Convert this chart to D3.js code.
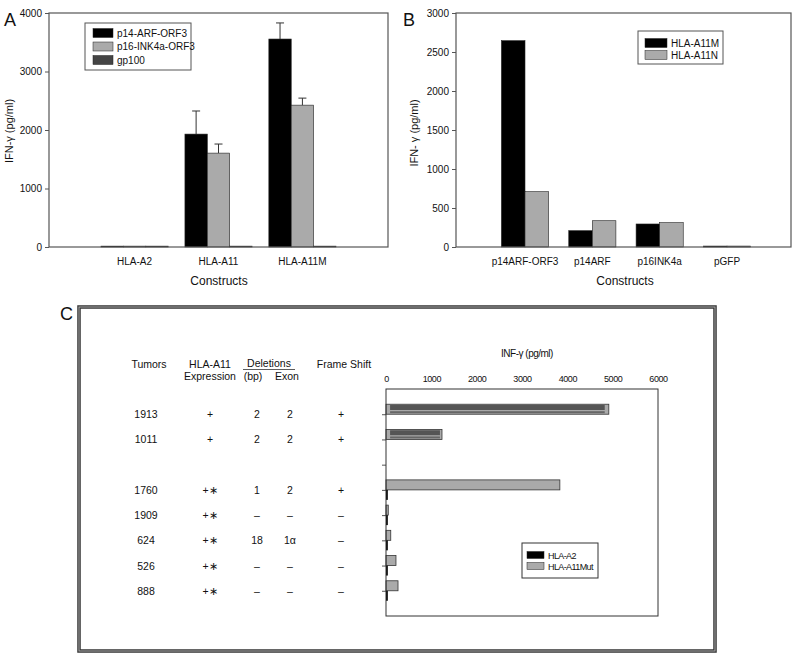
<!DOCTYPE html>
<html>
<head>
<meta charset="utf-8">
<script src="https://cdn.jsdelivr.net/npm/d3@7"></script>
<style>
  body { margin: 0; background: #fff; }
  svg { font-family: "Liberation Sans", Arial, sans-serif; }
</style>
</head>
<body>
<div id="chart"></div>
<script>
// ---- panel A data
const constructsA = ["HLA-A2", "HLA-A11", "HLA-A11M"];
const seriesA = ["p14-ARF-ORF3", "p16-INK4a-ORF3", "gp100"];
const p14ArfOrf3 = [15, 1930, 3555];
const p14ArfOrf3Err = [0, 395, 275];
const p16Ink4aOrf3 = [15, 1605, 2425];
const p16Ink4aOrf3Err = [0, 155, 120];
const gp100 = [15, 15, 15];
const ticksA = [0, 1000, 2000, 3000, 4000];

// ---- panel B data
const constructsB = ["p14ARF-ORF3", "p14ARF", "p16INK4a", "pGFP"];
const seriesB = ["HLA-A11M", "HLA-A11N"];
const hlaA11M = [2645, 209, 295, 12];
const hlaA11N = [709, 337, 312, 12];
const ticksB = [0, 500, 1000, 1500, 2000, 2500, 3000];

// ---- panel C data
const tumors = ["1913", "1011", "", "1760", "1909", "624", "526", "888"];
const expression = ["+", "+", "", "+∗", "+∗", "+∗", "+∗", "+∗"];
const deletionBp = ["2", "2", "", "1", "–", "18", "–", "–"];
const deletionExon = ["2", "2", "", "2", "–", "1α", "–", "–"];
const frameShift = ["+", "+", "", "+", "–", "–", "–", "–"];
const seriesC = ["HLA-A2", "HLA-A11Mut"];
const hlaA2 = [0, 0, null, 40, 40, 40, 40, 40];
const hlaA11Mut = [4915, 1235, null, 3835, 50, 105, 220, 265];
const hlaA11MutInner = [4825, 1190, null, null, null, null, null, null];
const ticksC = [0, 1000, 2000, 3000, 4000, 5000, 6000];

const textCol = "#111";
const frameCol = "#555";
const fmt = d3.format("d");

const svg = d3.select("#chart")
  .append("svg")
  .attr("width", 800)
  .attr("height", 658);

function styleAxis(g, size) {
  g.select(".domain").remove();
  g.selectAll("line").attr("stroke", frameCol);
  g.selectAll("text").attr("fill", textCol).style("font-size", size + "px");
}

// ================= panel A
{
  const L = 49, R = 388, T = 13, B = 247;
  const x = d3.scaleBand().domain(constructsA).range([L, R]).paddingInner(0.2).paddingOuter(0.62);
  const xi = d3.scaleBand().domain(seriesA).range([0, x.bandwidth()]);
  const y = d3.scaleLinear().domain([0, 4000]).range([B, T]);
  const colors = ["#000", "#aaa", "#444"];
  const vals = [p14ArfOrf3, p16Ink4aOrf3, gp100];
  const errs = [p14ArfOrf3Err, p16Ink4aOrf3Err, null];

  svg.append("g").attr("transform", "translate(" + L + ",0)")
    .call(d3.axisLeft(y).tickValues(ticksA).tickFormat(fmt).tickSize(4).tickPadding(3))
    .call(g => styleAxis(g, 10));
  svg.append("g").attr("transform", "translate(0," + B + ")")
    .call(d3.axisBottom(x).tickSize(0).tickPadding(11))
    .call(g => styleAxis(g, 10));

  seriesA.forEach((s, si) => {
    constructsA.forEach((c, ci) => {
      const v = vals[si][ci];
      svg.append("rect")
        .attr("x", x(c) + xi(s)).attr("width", xi.bandwidth())
        .attr("y", y(v)).attr("height", B - y(v))
        .attr("fill", colors[si]).attr("stroke", "#222").attr("stroke-width", 0.6);
      if (errs[si] && errs[si][ci] > 0) {
        const cx = x(c) + xi(s) + xi.bandwidth() / 2;
        const top = y(v + errs[si][ci]);
        svg.append("line").attr("x1", cx).attr("x2", cx).attr("y1", y(v)).attr("y2", top)
          .attr("stroke", "#333").attr("stroke-width", 1);
        svg.append("line").attr("x1", cx - 4).attr("x2", cx + 4).attr("y1", top).attr("y2", top)
          .attr("stroke", "#333").attr("stroke-width", 1);
      }
    });
  });

  svg.append("rect").attr("x", L).attr("y", T).attr("width", R - L).attr("height", B - T)
    .attr("fill", "none").attr("stroke", frameCol).attr("stroke-width", 1.2);

  // legend
  svg.append("rect").attr("x", 85).attr("y", 23).attr("width", 106).attr("height", 47)
    .attr("fill", "#fff").attr("stroke", frameCol);
  seriesA.forEach((s, i) => {
    const ly = 33 + i * 13.5;
    svg.append("rect").attr("x", 93).attr("y", ly - 4.5).attr("width", 20).attr("height", 9)
      .attr("fill", colors[i]).attr("stroke", "#222").attr("stroke-width", 0.5);
    svg.append("text").attr("x", 117).attr("y", ly + 3.5).text(s)
      .style("font-size", "10px").attr("fill", textCol);
  });

  svg.append("text").attr("x", 4).attr("y", 26).text("A").style("font-size", "18px").attr("fill", "#111");
  svg.append("text").attr("transform", "translate(13,131) rotate(-90)").attr("text-anchor", "middle")
    .style("font-size", "11px").attr("fill", textCol).text("IFN-γ (pg/ml)");
  svg.append("text").attr("x", 219).attr("y", 285).attr("text-anchor", "middle")
    .style("font-size", "12px").attr("fill", textCol).text("Constructs");
}

// ================= panel B
{
  const L = 456, R = 791, T = 13, B = 247;
  const x = d3.scaleBand().domain(constructsB).range([459, 793]).paddingInner(0.3).paddingOuter(0.63);
  const xi = d3.scaleBand().domain(seriesB).range([0, x.bandwidth()]);
  const y = d3.scaleLinear().domain([0, 3000]).range([B, T]);
  const colors = ["#000", "#aaa"];
  const vals = [hlaA11M, hlaA11N];

  svg.append("g").attr("transform", "translate(" + L + ",0)")
    .call(d3.axisLeft(y).tickValues(ticksB).tickFormat(fmt).tickSize(4).tickPadding(3))
    .call(g => styleAxis(g, 10));
  svg.append("g").attr("transform", "translate(0," + B + ")")
    .call(d3.axisBottom(x).tickSize(0).tickPadding(11))
    .call(g => styleAxis(g, 10));

  seriesB.forEach((s, si) => {
    constructsB.forEach((c, ci) => {
      const v = vals[si][ci];
      svg.append("rect")
        .attr("x", x(c) + xi(s)).attr("width", xi.bandwidth())
        .attr("y", y(v)).attr("height", B - y(v))
        .attr("fill", colors[si]).attr("stroke", "#222").attr("stroke-width", 0.6);
    });
  });

  svg.append("rect").attr("x", L).attr("y", T).attr("width", R - L).attr("height", B - T)
    .attr("fill", "none").attr("stroke", frameCol).attr("stroke-width", 1.2);

  svg.append("rect").attr("x", 638).attr("y", 31).attr("width", 85).attr("height", 33)
    .attr("fill", "#fff").attr("stroke", frameCol);
  seriesB.forEach((s, i) => {
    const ly = 43 + i * 12;
    svg.append("rect").attr("x", 645).attr("y", ly - 4.5).attr("width", 22).attr("height", 9)
      .attr("fill", colors[i]).attr("stroke", "#222").attr("stroke-width", 0.5);
    svg.append("text").attr("x", 671).attr("y", ly + 3.5).text(s)
      .style("font-size", "10px").attr("fill", textCol);
  });

  svg.append("text").attr("x", 403).attr("y", 26).text("B").style("font-size", "18px").attr("fill", "#111");
  svg.append("text").attr("transform", "translate(418,133) rotate(-90)").attr("text-anchor", "middle")
    .style("font-size", "11px").attr("fill", textCol).text("IFN- γ (pg/ml)");
  svg.append("text").attr("x", 625).attr("y", 285).attr("text-anchor", "middle")
    .style("font-size", "12px").attr("fill", textCol).text("Constructs");
}

// ================= panel C
{
  // outer double frame
  svg.append("rect").attr("x", 79).attr("y", 307).attr("width", 636).attr("height", 344)
    .attr("fill", "none").attr("stroke", "#333").attr("stroke-width", 3.5);
  svg.append("rect").attr("x", 79).attr("y", 307).attr("width", 636).attr("height", 344)
    .attr("fill", "none").attr("stroke", "#aaa").attr("stroke-width", 1);
  svg.append("text").attr("x", 60).attr("y", 320).text("C").style("font-size", "18px").attr("fill", "#111");

  const L = 386, R = 658, T = 389, B = 616;
  const x = d3.scaleLinear().domain([0, 6000]).range([L, R]);
  const y = d3.scalePoint().domain(tumors).range([T, B]).padding(1);
  const bh = 10;

  svg.append("g").attr("transform", "translate(0," + T + ")")
    .call(d3.axisTop(x).tickValues(ticksC).tickFormat(fmt).tickSize(0).tickPadding(7))
    .call(g => styleAxis(g, 9))
    .call(g => g.selectAll("text").style("letter-spacing", "-0.4px"));
  svg.append("g").attr("transform", "translate(" + L + ",0)")
    .call(d3.axisLeft(y).tickSize(4).tickFormat(""))
    .call(g => styleAxis(g, 9));

  tumors.forEach((t, i) => {
    const cy = y(t);
    if (hlaA11Mut[i] != null) {
      svg.append("rect").attr("x", L).attr("y", cy - bh).attr("width", x(hlaA11Mut[i]) - L).attr("height", bh)
        .attr("fill", "#aaa").attr("stroke", "#333").attr("stroke-width", 0.8);
    }
    if (hlaA11MutInner[i] != null) {
      svg.append("rect").attr("x", x(90)).attr("y", cy - bh + 0.8).attr("width", x(hlaA11MutInner[i]) - x(90)).attr("height", 5)
        .attr("fill", "#555");
      svg.append("rect").attr("x", x(90)).attr("y", cy - bh + 7).attr("width", x(hlaA11MutInner[i]) - x(90)).attr("height", 2)
        .attr("fill", "#666");
    }
    if (hlaA2[i]) {
      svg.append("rect").attr("x", L).attr("y", cy).attr("width", x(hlaA2[i]) - L).attr("height", bh)
        .attr("fill", "#000");
    }
  });

  svg.append("rect").attr("x", L).attr("y", T).attr("width", R - L).attr("height", B - T)
    .attr("fill", "none").attr("stroke", "#333").attr("stroke-width", 1);

  svg.append("text").attr("x", 527).attr("y", 357).attr("text-anchor", "middle")
    .style("font-size", "10px").style("letter-spacing", "-0.5px").attr("fill", textCol).text("INF-γ (pg/ml)");

  // legend
  svg.append("rect").attr("x", 522).attr("y", 543).attr("width", 76).attr("height", 35)
    .attr("fill", "#fff").attr("stroke", "#333");
  const colC = ["#000", "#aaa"];
  seriesC.forEach((s, i) => {
    const ly = 555 + i * 11;
    svg.append("rect").attr("x", 527).attr("y", ly - 3.5).attr("width", 17).attr("height", 7)
      .attr("fill", colC[i]).attr("stroke", "#222").attr("stroke-width", 0.5);
    svg.append("text").attr("x", 548).attr("y", ly + 3.5).text(s)
      .style("font-size", "9px").style("letter-spacing", "-0.6px").attr("fill", textCol);
  });

  // table
  const fs = "10.5px";
  const head = [
    [149, 368, "Tumors"], [210, 368, "HLA-A11"], [210, 380, "Expression"],
    [269, 367, "Deletions"], [253, 380, "(bp)"], [287, 380, "Exon"], [344, 368, "Frame Shift"]
  ];
  head.forEach(h => {
    svg.append("text").attr("x", h[0]).attr("y", h[1]).attr("text-anchor", "middle")
      .style("font-size", fs).attr("fill", textCol).text(h[2]);
  });
  svg.append("line").attr("x1", 243).attr("x2", 295).attr("y1", 369.5).attr("y2", 369.5)
    .attr("stroke", "#333").attr("stroke-width", 0.8);

  const cols = [[146, tumors], [210, expression], [257, deletionBp], [290, deletionExon], [341, frameShift]];
  cols.forEach(c => {
    tumors.forEach((t, i) => {
      if (!c[1][i]) return;
      svg.append("text").attr("x", c[0]).attr("y", y(t) + 4).attr("text-anchor", "middle")
        .style("font-size", fs).attr("fill", textCol).text(c[1][i]);
    });
  });
}
</script>
</body>
</html>
